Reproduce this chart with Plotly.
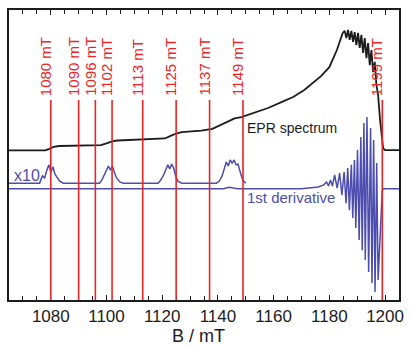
import plotly.graph_objects as go

# EPR absorption spectrum: magnetic field (mT) and intensity (a.u.)
epr_field = [1065, 1078, 1079.5, 1081, 1083, 1090, 1098, 1100, 1102, 1104,
             1113, 1121, 1123, 1125, 1127, 1134, 1138, 1141, 1144, 1146,
             1148.4, 1153, 1158, 1163, 1167, 1171, 1174, 1177, 1180, 1182.7,
             1184.8, 1185.5, 1186.1, 1186.7, 1187.3, 1187.9, 1188.5, 1189.1, 1189.7, 1190.3,
             1190.9, 1191.5, 1192.1, 1192.7, 1193.3, 1193.9, 1194.5, 1195.1, 1195.7, 1196.3,
             1196.9, 1197.5, 1198.2, 1198.8, 1199.3, 1200, 1205]
epr_signal = [51.6, 51.6, 52.1, 52.8, 53.1, 53.3, 53.4, 54.0, 54.7, 55.0,
              55.3, 55.7, 56.6, 57.4, 57.9, 58.4, 59.0, 60.3, 61.7, 62.6,
              63.1, 64.5, 66.2, 68.3, 70.0, 72.4, 74.8, 77.2, 80.3, 86.2,
              92.1, 92.8, 90.3, 93.1, 89.7, 92.8, 89.0, 92.4, 87.9, 92.1,
              86.9, 91.4, 85.2, 90.3, 83.4, 88.6, 81.0, 86.2, 78.6, 82.1,
              74.1, 70.7, 62.1, 55.2, 52.4, 51.7, 51.7]

# First derivative of the spectrum (offset on the same axis)
deriv_field = [1065, 1142, 1144, 1145.5, 1147, 1170, 1176, 1178, 1179.0, 1179.7,
               1180.4, 1181.1, 1181.9, 1182.8, 1183.7, 1184.5, 1185.3, 1186.0, 1186.6, 1187.2,
               1187.9, 1188.4, 1189.0, 1189.5, 1190.1, 1190.7, 1191.3, 1191.8, 1192.4, 1192.9,
               1193.5, 1194.1, 1194.8, 1195.3, 1195.9, 1196.4, 1197.0, 1197.5, 1198.3, 1199.0,
               1199.5, 1205]
deriv_signal = [38.4, 38.4, 38.9, 38.7, 38.4, 38.4, 39.0, 39.7, 40.7, 39.3,
                41.4, 39.3, 43.1, 38.6, 43.8, 36.2, 44.1, 33.4, 45.5, 31.0,
                46.6, 28.3, 48.3, 24.8, 51.7, 20.7, 56.2, 17.2, 61.0, 13.8,
                63.1, 9.7, 59.3, 5.9, 55.2, 2.8, 47.2, 6.9, 24.1, 37.9,
                38.4, 38.4]

# Low-field part of the derivative, magnified x10
deriv10_field = [1065, 1076.0, 1077.0, 1077.8, 1078.6, 1079.3, 1080.0, 1080.8, 1081.5, 1082.3, 1083.2, 1084.5,
                 1097.5, 1098.5, 1099.3, 1100.0, 1100.7, 1101.4, 1102.1, 1102.8, 1103.6, 1104.8, 1106,
                 1118.5, 1119.5, 1120.5, 1121.3, 1122.0, 1122.7, 1123.4, 1124.1, 1124.8, 1125.6, 1127,
                 1139.5, 1140.5, 1141.5, 1142.3, 1143.0, 1143.7, 1144.4, 1145.1, 1145.8, 1146.5, 1147.2,
                 1148.0, 1148.8, 1149.5, 1150]
deriv10_signal = [40.3, 40.3, 42.8, 42.1, 44.8, 46.6, 44.1, 45.9, 43.4, 42.4, 41.0, 40.3,
                  40.3, 41.7, 43.4, 44.5, 46.2, 44.8, 46.2, 44.1, 42.1, 40.7, 40.3,
                  40.3, 41.4, 43.1, 45.2, 46.6, 45.2, 46.9, 45.5, 42.8, 41.0, 40.3,
                  40.3, 41.0, 42.8, 45.5, 47.6, 46.2, 48.3, 47.2, 48.3, 46.6, 46.9,
                  44.1, 41.7, 40.7, 40.3]

# Field positions marked with vertical lines
marker_fields = [1080, 1090, 1096, 1102, 1113, 1125, 1137, 1149, 1199]
marker_labels = [f"{b} mT" for b in marker_fields]
marker_top = 69

tick_values = [1080, 1100, 1120, 1140, 1160, 1180, 1200]

BLACK = "#1c1c1c"
BLUE = "#4d4db0"
RED = "#ee2424"
FONT = "Liberation Sans, Arial, sans-serif"

fig = go.Figure()
fig.add_trace(go.Scatter(x=epr_field, y=epr_signal, mode="lines",
                         line=dict(color=BLACK, width=1.8), hoverinfo="skip"))
fig.add_trace(go.Scatter(x=deriv_field, y=deriv_signal, mode="lines",
                         line=dict(color=BLUE, width=1.5), hoverinfo="skip"))
fig.add_trace(go.Scatter(x=deriv10_field, y=deriv10_signal, mode="lines",
                         line=dict(color=BLUE, width=1.5), hoverinfo="skip"))

for b, lab in zip(marker_fields, marker_labels):
    fig.add_shape(type="line", x0=b, x1=b, y0=0, y1=marker_top,
                  line=dict(color=RED, width=1.6), layer="above")
    fig.add_annotation(x=b, y=marker_top, text=lab, textangle=-90,
                       xanchor="center", yanchor="bottom", xshift=-5, yshift=2,
                       showarrow=False, font=dict(family=FONT, size=15, color=RED))

fig.add_annotation(x=1149.7, y=59.3, text="EPR spectrum", xanchor="left", yanchor="middle",
                   showarrow=False, font=dict(family=FONT, size=14, color=BLACK))
fig.add_annotation(x=1149.7, y=35.2, text="1st derivative", xanchor="left", yanchor="middle",
                   showarrow=False, font=dict(family=FONT, size=15, color=BLUE))
fig.add_annotation(x=1066.2, y=42.8, text="x10", xanchor="left", yanchor="middle",
                   showarrow=False, font=dict(family=FONT, size=16, color=BLUE))

# axis title placed as annotation so it can sit slightly left of centre
fig.add_annotation(x=0.485, y=-0.124, xref="paper", yref="paper", text="B / mT",
                   xanchor="center", yanchor="middle", showarrow=False,
                   font=dict(family=FONT, size=18, color=BLACK))

fig.update_layout(
    width=411, height=347,
    margin=dict(l=9, r=7, t=10, b=47),
    paper_bgcolor="white", plot_bgcolor="white",
    showlegend=False,
    font=dict(family=FONT, color=BLACK),
)
fig.update_xaxes(
    range=[1065, 1205], tickvals=tick_values,
    ticks="inside", ticklen=5, tickwidth=1.2, tickcolor=BLACK,
    minor=dict(dtick=5, tick0=1065, ticks="inside", ticklen=4, tickcolor=BLACK),
    showline=True, linecolor=BLACK, linewidth=2, mirror="allticks",
    showgrid=False, zeroline=False, ticklabelstandoff=0,
    tickfont=dict(family=FONT, size=17, color=BLACK),
)
fig.update_yaxes(
    range=[0, 100], showticklabels=False, ticks="",
    showline=True, linecolor=BLACK, linewidth=2, mirror=True,
    showgrid=False, zeroline=False,
)

fig.write_html("out.html")
